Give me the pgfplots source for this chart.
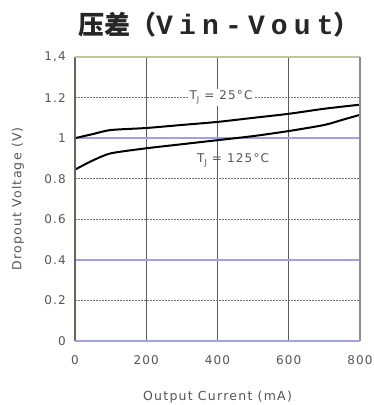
\documentclass[border=0pt]{standalone}
\usepackage{fontspec}
\usepackage{pgfplots}
\pgfplotsset{compat=1.18}
\setmainfont{DejaVu Sans}
\newfontfamily\lbl[LetterSpace=10]{DejaVu Sans}
\newfontfamily\cjk{Noto Sans CJK SC}
\newfontfamily\monob[LetterSpace=22]{Liberation Mono}

\definecolor{txt}{HTML}{555555}
\definecolor{gridgray}{HTML}{707070}
\definecolor{gridblue}{HTML}{A0A0E2}
\definecolor{vgrid}{HTML}{5A5A5A}
\definecolor{olive}{HTML}{C4C49A}

\begin{document}
\begin{tikzpicture}
\path[use as bounding box] (0,0) rectangle (374pt,405pt);

% title
\node[anchor=west, inner sep=0pt, text=black!85] at (78pt,380pt)
  {\cjk\bfseries\fontsize{26}{28}\selectfont 压差（{\monob\bfseries\fontsize{28}{30}\selectfont Vin-Vout}）};

\begin{axis}[
  at={(75pt,64pt)}, anchor=south west,
  scale only axis, width=285pt, height=284pt,
  xmin=0, xmax=800, ymin=0, ymax=1.4,
  xtick={0,200,400,600,800},
  ytick={0,0.2,0.4,0.6,0.8,1,1.2,1.4},
  yticklabels={0,0.2,0.4,0.6,0.8,1,1.2,{1,4}},
  /pgf/number format/assume math mode=true,
  major tick length=0pt,
  axis line style={draw=none},
  ymajorgrids, xmajorgrids,
  y grid style={gridgray, line width=1.1pt, dash pattern=on 2pt off 1pt},
  x grid style={vgrid, line width=1.2pt},
  ticklabel style={font=\lbl\fontsize{12}{14}\selectfont, text=txt, inner sep=0pt},
  xticklabel style={anchor=center, yshift=-19pt},
  yticklabel style={anchor=east, xshift=-9pt},
  xlabel={Output Current (mA)},
  ylabel={Dropout Voltage (V)},
  label style={font=\lbl\fontsize{12.5}{14}\selectfont, text=txt, inner sep=0pt},
  xlabel style={at={(axis description cs:0.5,-0.197)}, anchor=center},
  ylabel style={at={(axis description cs:-0.2,0.5)}, anchor=center},
  clip=false,
]
% solid blue reference lines at 0.4 V and 1 V
\addplot[gridblue, line width=1.5pt, forget plot] coordinates {(0,0.4) (800,0.4)};
\addplot[gridblue, line width=1.5pt, forget plot] coordinates {(0,1) (800,1)};

% T_J = 25 C
\addplot[black, line width=2pt, smooth, tension=0.4] coordinates {
  (0,1.0) (50,1.02) (100,1.04) (200,1.05) (300,1.065) (400,1.08)
  (500,1.10) (600,1.12) (700,1.145) (800,1.165)
};
% T_J = 125 C
\addplot[black, line width=2pt, smooth, tension=0.4] coordinates {
  (0,0.845) (50,0.89) (100,0.925) (200,0.95) (300,0.97) (400,0.99)
  (500,1.01) (600,1.035) (700,1.065) (750,1.09) (800,1.115)
};

% frame
\draw[vgrid!90!olive, line width=1.6pt] (rel axis cs:0,0) -- (rel axis cs:0,1);
\draw[olive, line width=1.6pt] (rel axis cs:0,1) -- (rel axis cs:1,1);
\draw[gridgray!80, line width=1.3pt] (rel axis cs:1,1) -- (rel axis cs:1,0);
\draw[gridblue, line width=1.6pt] (rel axis cs:0,0) -- (rel axis cs:1,0);

\node[fill=white, text=txt, inner sep=2pt, font=\lbl\fontsize{12}{14}\selectfont]
  at (axis cs:410,1.2) {T\raisebox{-0.4ex}{\fontsize{8}{9}\selectfont J} = 25°C};
\node[text=txt, inner sep=2pt, font=\lbl\fontsize{12}{14}\selectfont]
  at (axis cs:444,0.89) {T\raisebox{-0.4ex}{\fontsize{8}{9}\selectfont J} = 125°C};
\end{axis}
\end{tikzpicture}
\end{document}
